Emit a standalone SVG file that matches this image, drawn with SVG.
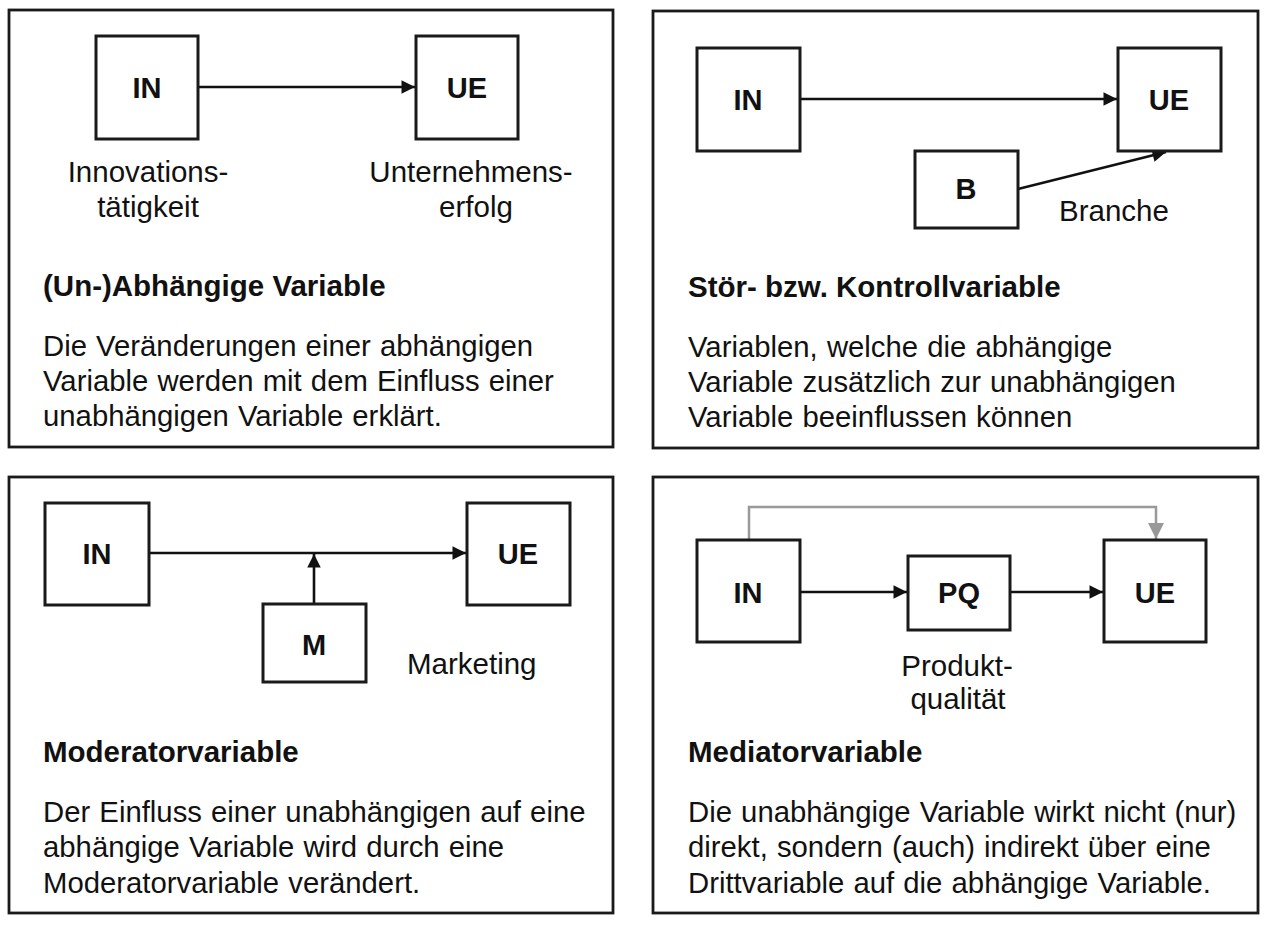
<svg xmlns="http://www.w3.org/2000/svg" width="1268" height="927" viewBox="0 0 1268 927">
<style>
.panel{fill:none;stroke:#1a1a1a;stroke-width:2.8}
.box{fill:#fff;stroke:#1a1a1a;stroke-width:3}
.lbl{font-family:"Liberation Sans",Arial,sans-serif;font-weight:bold;font-size:29px;fill:#111;text-anchor:middle}
.cap{font-family:"Liberation Sans",Arial,sans-serif;font-size:29.5px;fill:#111}
.mid{text-anchor:middle}
.ttl{font-family:"Liberation Sans",Arial,sans-serif;font-weight:bold;font-size:29.5px;fill:#111}
.body{font-family:"Liberation Sans",Arial,sans-serif;font-size:29.3px;fill:#111;word-spacing:1px}
.arr{fill:none;stroke:#111;stroke-width:2.6}
.garr{fill:none;stroke:#999;stroke-width:2.5}
</style>
<defs>
<marker id="ah" viewBox="0 0 10 10" refX="10" refY="5" markerWidth="7.6" markerHeight="5.2" markerUnits="strokeWidth" orient="auto"><path d="M0,0L10,5L0,10z" fill="#111"/></marker>
<marker id="gah" viewBox="0 0 10 10" refX="10" refY="5" markerWidth="7.6" markerHeight="6.4" markerUnits="strokeWidth" orient="auto"><path d="M0,0L10,5L0,10z" fill="#999"/></marker>
</defs>
<rect fill="#fff" width="1268" height="927"/>
<g id="panels">
<rect class="panel" x="9" y="10" width="604" height="437"/>
<rect class="panel" x="653" y="11" width="605" height="437"/>
<rect class="panel" x="9" y="477" width="604" height="436"/>
<rect class="panel" x="653" y="477" width="605" height="436"/>
</g>
<g id="connectors">
<line class="arr" x1="198" y1="87" x2="415" y2="87" marker-end="url(#ah)"/>
<line class="arr" x1="800" y1="99" x2="1117" y2="99" marker-end="url(#ah)"/>
<line class="arr" x1="1018" y1="189" x2="1166" y2="152" marker-end="url(#ah)"/>
<line class="arr" x1="149" y1="553" x2="466" y2="553" marker-end="url(#ah)"/>
<line class="arr" x1="314" y1="604" x2="314" y2="554" marker-end="url(#ah)"/>
<line class="arr" x1="800" y1="592" x2="907" y2="592" marker-end="url(#ah)"/>
<line class="arr" x1="1010" y1="592" x2="1103" y2="592" marker-end="url(#ah)"/>
<path class="garr" d="M749,540V507H1156V539" marker-end="url(#gah)"/>
</g>
<g id="p1-in"><rect class="box" x="96" y="36" width="102" height="103"/><text class="lbl" x="147" y="98">IN</text></g>
<g id="p1-ue"><rect class="box" x="416" y="36" width="102" height="103"/><text class="lbl" x="467" y="98">UE</text></g>
<g id="p1-text">
<text class="cap mid" x="148" y="182">Innovations-</text>
<text class="cap mid" x="148" y="217">tätigkeit</text>
<text class="cap mid" x="471" y="182">Unternehmens-</text>
<text class="cap mid" x="476" y="217">erfolg</text>
<text class="ttl" x="43" y="296">(Un-)Abhängige Variable</text>
<text class="body" x="43" y="356">Die Veränderungen einer abhängigen</text>
<text class="body" x="43" y="391">Variable werden mit dem Einfluss einer</text>
<text class="body" x="43" y="426">unabhängigen Variable erklärt.</text>
</g>
<g id="p2-in"><rect class="box" x="697" y="48" width="103" height="103"/><text class="lbl" x="748" y="110">IN</text></g>
<g id="p2-ue"><rect class="box" x="1118" y="48" width="103" height="103"/><text class="lbl" x="1169" y="110">UE</text></g>
<g id="p2-b"><rect class="box" x="915" y="151" width="103" height="77"/><text class="lbl" x="966" y="199">B</text></g>
<g id="p2-text">
<text class="cap" x="1059" y="221">Branche</text>
<text class="ttl" x="688" y="297">Stör- bzw. Kontrollvariable</text>
<text class="body" x="688" y="357">Variablen, welche die abhängige</text>
<text class="body" x="688" y="392">Variable zusätzlich zur unabhängigen</text>
<text class="body" x="688" y="427">Variable beeinflussen können</text>
</g>
<g id="p3-in"><rect class="box" x="45" y="503" width="104" height="102"/><text class="lbl" x="97" y="564">IN</text></g>
<g id="p3-ue"><rect class="box" x="467" y="503" width="103" height="102"/><text class="lbl" x="518" y="564">UE</text></g>
<g id="p3-m"><rect class="box" x="263" y="604" width="103" height="78"/><text class="lbl" x="314" y="655">M</text></g>
<g id="p3-text">
<text class="cap" x="407" y="674">Marketing</text>
<text class="ttl" x="43" y="762">Moderatorvariable</text>
<text class="body" x="43" y="822">Der Einfluss einer unabhängigen auf eine</text>
<text class="body" x="43" y="857">abhängige Variable wird durch eine</text>
<text class="body" x="43" y="893">Moderatorvariable verändert.</text>
</g>
<g id="p4-in"><rect class="box" x="697" y="540" width="103" height="102"/><text class="lbl" x="748" y="603">IN</text></g>
<g id="p4-pq"><rect class="box" x="908" y="556" width="102" height="74"/><text class="lbl" x="959" y="603">PQ</text></g>
<g id="p4-ue"><rect class="box" x="1104" y="540" width="102" height="102"/><text class="lbl" x="1155" y="603">UE</text></g>
<g id="p4-text">
<text class="cap mid" x="957" y="676">Produkt-</text>
<text class="cap mid" x="958" y="709">qualität</text>
<text class="ttl" x="688" y="762">Mediatorvariable</text>
<text class="body" x="688" y="822">Die unabhängige Variable wirkt nicht (nur)</text>
<text class="body" x="688" y="857">direkt, sondern (auch) indirekt über eine</text>
<text class="body" x="688" y="893">Drittvariable auf die abhängige Variable.</text>
</g>
</svg>
